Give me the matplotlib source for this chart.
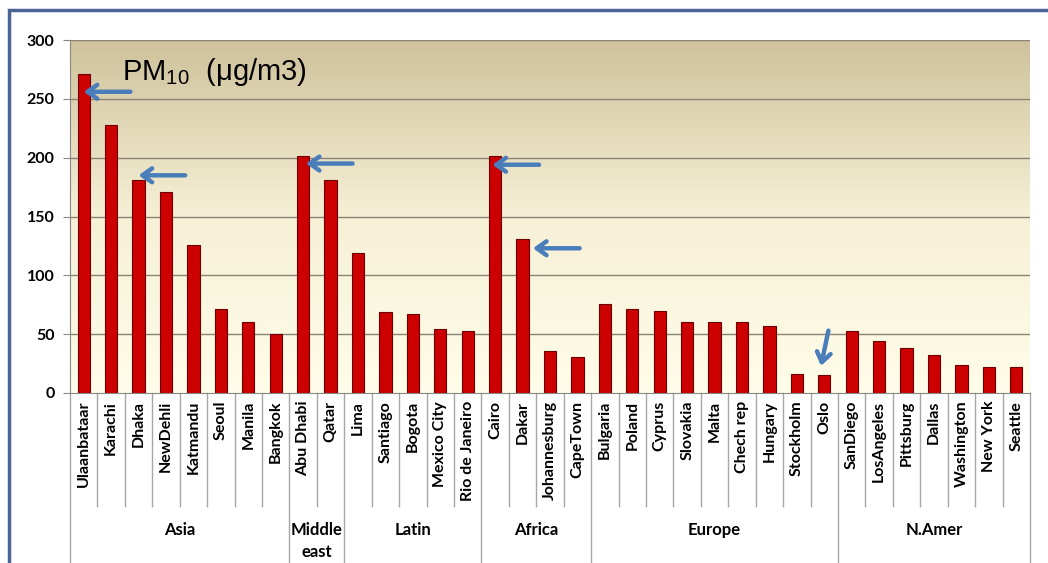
import matplotlib.pyplot as plt
import numpy as np
from matplotlib.colors import LinearSegmentedColormap
from matplotlib.patches import Rectangle

plt.rcParams['mathtext.fontset'] = 'custom'
plt.rcParams['mathtext.rm'] = 'Liberation Sans'

# data
cities = ["Ulaanbataar", "Karachi", "Dhaka", "NewDehli", "Katmandu", "Seoul", "Manila", "Bangkok",
          "Abu Dhabi", "Qatar",
          "Lima", "Santiago", "Bogota", "Mexico City", "Rio de Janeiro",
          "Cairo", "Dakar", "Johannesburg", "CapeTown",
          "Bulgaria", "Poland", "Cyprus", "Slovakia", "Malta", "Chech rep", "Hungary", "Stockholm", "Oslo",
          "SanDiego", "LosAngeles", "Pittsburg", "Dallas", "Washington", "New York", "Seattle"]
pm10 = [271, 228, 181, 171, 126, 71, 60, 50,
        201, 181,
        119, 69, 67, 54, 53,
        201, 131, 36, 31,
        76, 71, 70, 60, 60, 60, 57, 16, 15,
        53, 44, 38, 32, 24, 22, 22]
regions = ["Asia", "Middle\neast", "Latin", "Africa", "Europe", "N.Amer"]
region_sizes = [8, 2, 5, 4, 9, 7]

# arrows: city -> (height pointed at, sideways shift of the tip)
arrow_left = {"Ulaanbataar": (256, 0), "Dhaka": (185, 0), "Abu Dhabi": (195, 0.1),
              "Cairo": (194, -0.1), "Dakar": (123, 0.38)}
arrow_down = ["Oslo"]

fig = plt.figure(figsize=(10.48, 5.63), dpi=100)
ax = fig.add_axes([70 / 1048, 170 / 563, 960 / 1048, 353 / 563])

x = np.arange(len(cities))
n = len(cities)
ax.set_xlim(-0.5, n - 0.5)
ax.set_ylim(0, 300)

# gradient background
cmap = LinearSegmentedColormap.from_list("bg", ["#fffde9", "#f6f0d6", "#cfc29c"])
grad = np.linspace(0, 1, 256).reshape(-1, 1)
ax.imshow(grad, cmap=cmap, aspect="auto", extent=(-0.5, n - 0.5, 0, 300),
          origin="lower", zorder=0)

for v in range(50, 301, 50):
    ax.axhline(v, color="#8a8273", lw=1.0, zorder=1)

ax.bar(x, pm10, width=0.45, color="#cc0000", edgecolor="#6e0000", lw=0.8, zorder=2)

ax.set_yticks(range(0, 301, 50))
ax.set_yticklabels([str(v) for v in range(0, 301, 50)], fontsize=11.5,
                   fontweight="bold", family="Lato")
ax.tick_params(axis="y", length=5, color="#888888", pad=6)
ax.set_xticks([])
for s in ["top", "right"]:
    ax.spines[s].set_visible(False)
ax.spines["left"].set_color("#888888")
ax.spines["bottom"].set_color("#888888")

# category labels and separators
trans = ax.get_xaxis_transform()
for i, c in enumerate(cities):
    ax.text(i, -0.022, c, rotation=90, ha="center", va="top", fontsize=11.5,
            fontweight="bold", family="Lato", transform=trans)
bounds = np.concatenate([[0], np.cumsum(region_sizes)])
for b in range(n + 1):
    y0 = -0.53 if b in bounds else -0.32
    ax.plot([b - 0.5, b - 0.5], [0, y0], color="#a6a6a6", lw=1.0,
            transform=trans, clip_on=False)
for r, s, e in zip(regions, bounds[:-1], bounds[1:]):
    ax.text((s + e - 1) / 2, -0.365, r, ha="center", va="top", fontsize=12,
            fontweight="bold", family="Lato", linespacing=1.45, transform=trans)

# title
ax.text(1.4, 273, r"PM$_{10}$  (μg/m3)", fontsize=21, family="Liberation Sans",
        va="center", ha="left", zorder=4)

# arrows
arrow_style = dict(arrowstyle="->,head_length=0.7,head_width=0.5", color="#4a7ebb",
                   lw=3.2, shrinkA=0, shrinkB=0)
for c, (h, dx) in arrow_left.items():
    i = cities.index(c)
    ax.annotate("", xy=(i + dx, h), xytext=(i + dx + 1.7, h),
                arrowprops=arrow_style, zorder=5)
for c in arrow_down:
    i = cities.index(c)
    v = pm10[i]
    ax.annotate("", xy=(i - 0.12, v + 8), xytext=(i + 0.15, v + 38),
                arrowprops=arrow_style, zorder=5)

# outer frame
fig.patches.append(Rectangle((9 / 1048, -0.1), 1.2, 1 - 10 / 563 + 0.1,
                             transform=fig.transFigure, fill=False,
                             edgecolor="#4a6496", lw=2.5))

fig.savefig("out.png", dpi=100)
